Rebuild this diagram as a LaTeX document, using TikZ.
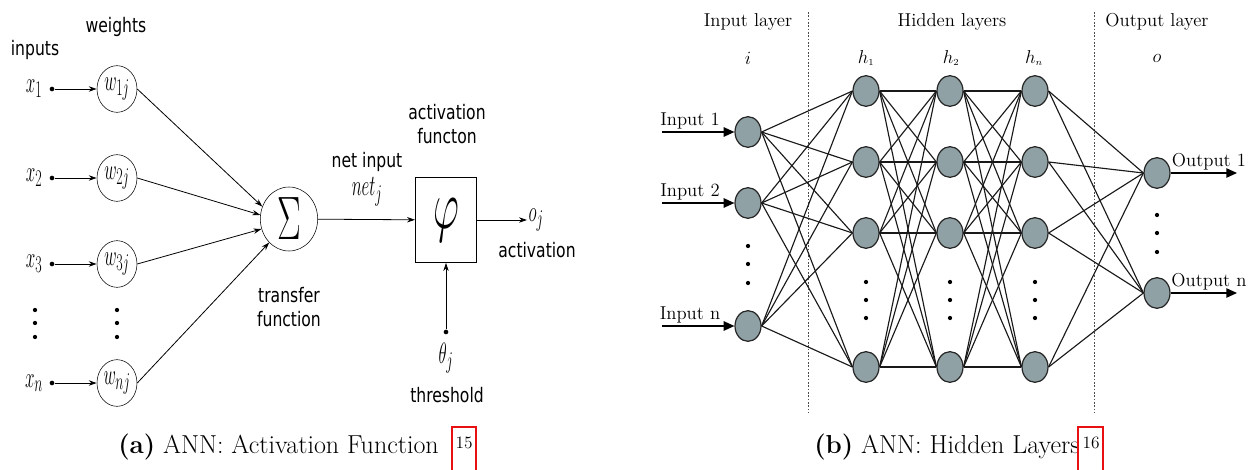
\RequirePackage{fix-cm}
\documentclass[tikz,border=0pt]{standalone}
\usepackage{graphicx}
\usepackage{fontspec}
\usepackage{tikz}
\usetikzlibrary{shapes.geometric,arrows.meta}
\newfontfamily\labelfont[FakeStretch=0.78]{DejaVu Sans}
\DeclareMathSizes{22}{22}{18}{14}
\DeclareMathSizes{14}{14}{7}{5}
\definecolor{nodegray}{RGB}{143,161,164}
\definecolor{capred}{RGB}{232,16,16}
\newcommand{\nar}[1]{\scalebox{0.58}[1]{#1}}

\begin{document}
\begin{tikzpicture}[x=0.75pt,y=-0.75pt,
  lbl/.style={font=\labelfont\fontsize{15}{18}\selectfont,align=center,inner sep=0pt},
  mlbl/.style={font=\fontsize{22}{24}\selectfont,inner sep=1pt},
  wnode/.style={draw,ellipse,minimum width=30pt,minimum height=35pt,inner sep=0pt,font=\fontsize{22}{24}\selectfont},
  sumnode/.style={draw,ellipse,minimum width=43pt,minimum height=48pt,inner sep=0pt},
  phibox/.style={draw,minimum width=46pt,minimum height=64pt,inner sep=0pt},
  pin/.style={circle,fill=black,inner sep=0pt,minimum size=3.5pt},
  larrow/.style={-{Stealth[length=6pt,width=4pt]},line width=0.6pt},
  neuron/.style={draw=black!85,ellipse,fill=nodegray,line width=0.9pt,minimum width=19.5pt,minimum height=23pt,inner sep=0pt},
  link/.style={line width=0.85pt,black!90},
  barrow/.style={-{Triangle[length=8pt,width=7pt]},line width=1.1pt},
  serif/.style={font=\fontsize{14}{16}\selectfont,inner sep=1pt},
  layersep/.style={line width=0.7pt,black!70,dash pattern=on 1.2pt off 1.3pt},
  caption/.style={font=\fontsize{19.5}{22}\selectfont,inner sep=0pt},
  refbox/.style={draw=capred,line width=2pt}]
\clip (0,0) rectangle (1251,470);
\fill[white] (0,0) rectangle (1251,470);

% (a) activation function
\node[lbl] (inputs) at (35,50) {inputs};
\node[lbl] (weights) at (116,27) {weights};
\node[sumnode] (sum) at (289,219) {\nar{\fontsize{46}{48}\selectfont$\Sigma$}};
\node[phibox] (phi) at (446,220) {\nar{\fontsize{52}{54}\selectfont$\varphi$}};
\foreach \i/\y/\s/\a in {1/89/1/155,2/178/2/172,3/264/3/200,n/383/n/230}{
  \node[mlbl] (x\i) at (34,\y) {\nar{$x_\s$}};
  \node[pin] (d\i) at (52,\y) {};
  \node[wnode] (w\i) at (117,\y) {\nar{$w_{\s j}$}};
  \draw[larrow] (d\i) -- (w\i);
  \draw[larrow] (w\i.east) -- (sum.\a);
}
\foreach \x in {35,117}
  \foreach \y in {310,323,337}
    \fill (\x,\y) circle (1.6pt);
\node[lbl] (netlbl) at (367,162) {net input};
\node[mlbl] (net) at (367,192) {\nar{$net_j$}};
\node[lbl] (actfn) at (447,124) {activation\\functon};
\node[lbl] (trans) at (289,307) {transfer\\function};
\node[mlbl] (oj) at (536,220) {\nar{$o_j$}};
\node[lbl] (act) at (537,250) {activation};
\node[pin] (tdot) at (446,332) {};
\node[mlbl] (theta) at (446,358) {\nar{$\theta_j$}};
\node[lbl] (thr) at (447,395) {threshold};
\draw[larrow] (sum) -- (phi);
\draw[larrow] (phi) -- (oj);
\draw[larrow] (tdot) -- (phi);
\node[caption,anchor=base west] (capa) at (118,453) {\textbf{(a)} ANN: Activation Function};
\draw[refbox] (452,427) rectangle (476,480);
\node[font=\fontsize{13}{15}\selectfont] (refa) at (464,443) {15};

% (b) hidden layers
\draw[layersep] (808,12) -- (808,413);
\draw[layersep] (1094,12) -- (1094,413);
\node[serif] (inl) at (748,22) {Input layer};
\node[serif] (hidl) at (952,22) {Hidden layers};
\node[serif] (outl) at (1157,22) {Output layer};
\node[serif] (il) at (748,58) {$i$};
\node[serif] (h1l) at (866,58) {$h_1$};
\node[serif] (h2l) at (951,58) {$h_2$};
\node[serif] (hnl) at (1034,58) {$h_n$};
\node[serif] (ol) at (1157,58) {$o$};
\foreach \y/\s [count=\k] in {132/1,203/2,326/n}{
  \node[neuron] (in\k) at (748,\y) {};
  \coordinate (src\k) at (662,\y);
  \draw[barrow] (src\k) -- (in\k);
  \node[serif,anchor=south] (inlbl\k) at (690,\y-1) {Input \s};
}
\foreach \x [count=\c] in {866,950,1035}
  \foreach \y [count=\r] in {91,162,233,367}
    \node[neuron] (h\c\r) at (\x,\y) {};
\foreach \y/\s [count=\k] in {173/1,293/n}{
  \node[neuron] (out\k) at (1157,\y) {};
  \coordinate (dst\k) at (1237,\y);
  \draw[barrow] (out\k) -- (dst\k);
  \node[serif,anchor=south] (outlbl\k) at (1209,\y-1) {Output \s};
}
\foreach \k in {1,2,3}
  \foreach \r in {1,...,4}
    \draw[link] (in\k.east) -- (h1\r.west);
\foreach \a/\b in {1/2,2/3}
  \foreach \p in {1,...,4}
    \foreach \q in {1,...,4}
      \draw[link] (h\a\p.east) -- (h\b\q.west);
\foreach \r in {1,...,4}
  \foreach \k in {1,2}
    \draw[link] (h3\r.east) -- (out\k.west);
\foreach \y in {246,264,283}
  \fill (748,\y) circle (1.6pt);
\foreach \x in {866,950,1035}
  \foreach \y in {282,300,318}
    \fill (\x,\y) circle (1.6pt);
\foreach \y in {215,233,252}
  \fill (1157,\y) circle (1.6pt);
\node[caption,anchor=base west] (capb) at (814,453) {\textbf{(b)} ANN: Hidden Layers};
\draw[refbox] (1078,427) rectangle (1103,480);
\node[font=\fontsize{13}{15}\selectfont] (refb) at (1091,443) {16};
\end{tikzpicture}
\end{document}
